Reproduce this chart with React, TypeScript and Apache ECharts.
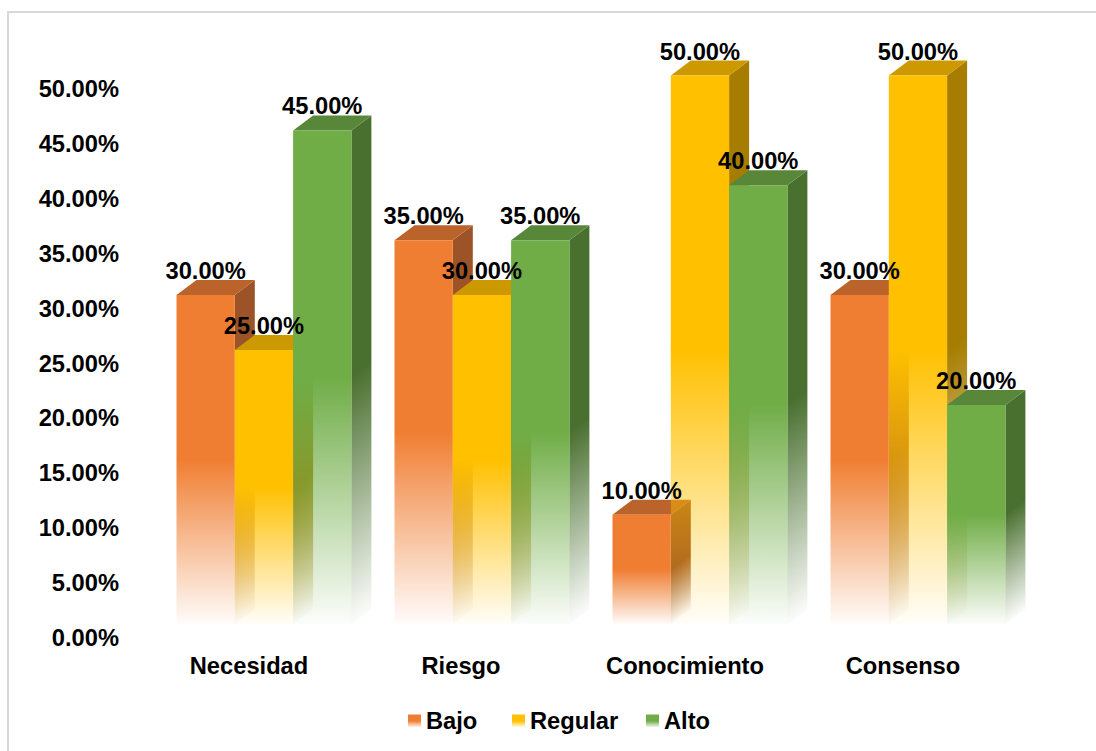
import React, { useEffect, useRef } from "react";
import * as echarts from "echarts";

const categories = ["Necesidad", "Riesgo", "Conocimiento", "Consenso"];
const bajo = [30, 35, 10, 30];
const regular = [25, 30, 50, 50];
const alto = [45, 35, 40, 20];
const yTicks = { min: 0, max: 50, interval: 5 };

const FONT_FAMILY = '"Liberation Sans", Arial, sans-serif';
const FONT_SIZE = 23.7;

// Oblique projection of the 3D columns, in pixels.
const DEPTH_X = 20;
const DEPTH_Y = 15;
const FRONT_LIFT = 13.5;
const BAR_WIDTH = 58.3;
const CLUSTER_SHIFT = -72.5;

type Palette = { front: string; top: string; side: string };

const palettes: Record<string, Palette> = {
  Bajo: { front: "#F07E32", top: "#BA632A", side: "#9C5327" },
  Regular: { front: "#FFC000", top: "#CC9A00", side: "#A67D00" },
  Alto: { front: "#70AD47", top: "#58873A", side: "#4A7030" },
};

function alpha(hex: string, a: number) {
  const n = parseInt(hex.slice(1), 16);
  return `rgba(${(n >> 16) & 255},${(n >> 8) & 255},${n & 255},${a})`;
}

function fadeStops(hex: string) {
  return [
    { offset: 0, color: alpha(hex, 1) },
    { offset: 0.5, color: alpha(hex, 1) },
    { offset: 1, color: alpha(hex, 0.02) },
  ];
}

// Solid in the upper half of a face, dissolving to white towards the floor.
function fade(hex: string) {
  return new echarts.graphic.LinearGradient(0, 0, 0, 1, fadeStops(hex));
}

// The side face fades along the normal of its slanted foot, so the colour bands
// run parallel to the bottom edge of the parallelogram.
function sideFade(hex: string, x: number, top: number, base: number) {
  const length = Math.hypot(DEPTH_X, DEPTH_Y);
  const nx = DEPTH_Y / length;
  const ny = DEPTH_X / length;
  const d = (base - top) * ny;
  return new echarts.graphic.LinearGradient(
    x,
    top,
    x + nx * d,
    top + ny * d,
    fadeStops(hex),
    true
  );
}

function columnSeries(name: string, values: number[], slot: number) {
  const p = palettes[name];
  return {
    name,
    type: "custom",
    clip: false,
    itemStyle: { color: fade(p.front) },
    data: values.map((v, i) => [i, v]),
    renderItem: (_params: any, api: any) => {
      const value = api.value(1);
      const [cx, vy] = api.coord([api.value(0), value]);
      const [, zeroY] = api.coord([api.value(0), 0]);
      const x = cx + CLUSTER_SHIFT + slot * BAR_WIDTH;
      const w = BAR_WIDTH;
      const top = vy - FRONT_LIFT;
      const base = zeroY - FRONT_LIFT;
      return {
        type: "group",
        children: [
          {
            type: "polygon",
            shape: {
              points: [
                [x + w, top],
                [x + w + DEPTH_X, top - DEPTH_Y],
                [x + w + DEPTH_X, base - DEPTH_Y],
                [x + w, base],
              ],
            },
            style: { fill: sideFade(p.side, x + w, top, base) },
          },
          {
            type: "polygon",
            shape: {
              points: [
                [x, top],
                [x + DEPTH_X, top - DEPTH_Y],
                [x + w + DEPTH_X, top - DEPTH_Y],
                [x + w, top],
              ],
            },
            style: { fill: p.top },
          },
          {
            type: "rect",
            shape: { x, y: top, width: w, height: base - top },
            style: { fill: fade(p.front) },
          },
          {
            type: "text",
            z2: 50,
            style: {
              x: x + w / 2,
              y: top - 24,
              text: `${value.toFixed(2)}%`,
              align: "center",
              verticalAlign: "middle",
              font: `bold ${FONT_SIZE}px ${FONT_FAMILY}`,
              fill: "#000000",
            },
          },
        ],
      };
    },
  };
}

function legendEntry(name: string, left: number) {
  return {
    left,
    top: 709,
    orient: "horizontal",
    padding: 0,
    itemWidth: 13,
    itemHeight: 13,
    icon: "rect",
    selectedMode: false,
    textStyle: {
      color: "#000000",
      fontFamily: FONT_FAMILY,
      fontSize: FONT_SIZE,
      fontWeight: "bold",
    },
    data: [{ name, itemStyle: { color: fade(palettes[name].front) } }],
  };
}

export default function App() {
  const ref = useRef<HTMLDivElement>(null);

  useEffect(() => {
    const chart = echarts.init(ref.current!, undefined, { renderer: "svg" });
    chart.setOption({
      animation: false,
      backgroundColor: "#ffffff",
      graphic: [
        {
          type: "rect",
          silent: true,
          shape: { x: 8, y: 12, width: 1300, height: 1000 },
          style: { fill: "none", stroke: "#D9D9D9", lineWidth: 2 },
        },
      ],
      grid: { left: 140, top: 89, width: 872, height: 549, containLabel: false },
      legend: [
        legendEntry("Bajo", 408),
        legendEntry("Regular", 512),
        legendEntry("Alto", 646),
      ],
      xAxis: {
        type: "category",
        data: categories.map((value) =>
          value === "Riesgo" ? { value, textStyle: { padding: [0, 12, 0, 0] } } : value
        ),
        axisLine: { show: false },
        axisTick: { show: false },
        splitLine: { show: false },
        axisLabel: {
          margin: 16,
          color: "#000000",
          fontFamily: FONT_FAMILY,
          fontSize: FONT_SIZE,
          fontWeight: "bold",
        },
      },
      yAxis: {
        type: "value",
        min: yTicks.min,
        max: yTicks.max,
        interval: yTicks.interval,
        axisLine: { show: false },
        axisTick: { show: false },
        splitLine: { show: false },
        axisLabel: {
          margin: 21,
          color: "#000000",
          fontFamily: FONT_FAMILY,
          fontSize: FONT_SIZE,
          fontWeight: "bold",
          formatter: (v: number) => `${v.toFixed(2)}%`,
        },
      },
      series: [
        columnSeries("Bajo", bajo, 0),
        columnSeries("Regular", regular, 1),
        columnSeries("Alto", alto, 2),
      ],
    });
    return () => chart.dispose();
  }, []);

  return (
    <div
      ref={ref}
      style={{ position: "absolute", left: 0, top: 0, width: 1096, height: 751 }}
    />
  );
}
